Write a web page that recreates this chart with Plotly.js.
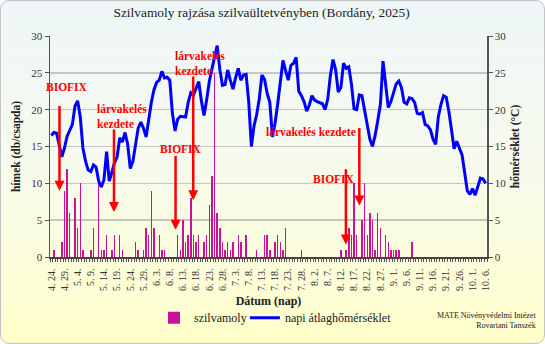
<!DOCTYPE html>
<html><head><meta charset="utf-8">
<script src="https://cdn.plot.ly/plotly-3.0.1.min.js"></script>
<style>
html,body{margin:0;padding:0;background:#ffffff;}
#wrap{position:relative;width:545px;height:344px;}
#chart{position:absolute;left:0;top:0;width:545px;height:344px;
  background:linear-gradient(to bottom,#EEF6F8 0%,#F6FAEE 45%,#FCFDD8 80%,#FEFEC8 100%);border-radius:9px;}
#frame{position:absolute;left:0;top:0;width:543px;height:342px;border:1px solid #C4C4C4;border-radius:9px;pointer-events:none;}
</style></head><body>
<div id="wrap"><div id="chart"></div><div id="frame"></div></div>
<script>
// ---- data ----
const startMonth = 4, startDay = 24, nDays = 166;
const monthLengths = {4:30,5:31,6:30,7:31,8:31,9:30,10:31};

// daily mean temperature (°C)
const tempC = [
16.5,16.9,16.8,15.0,13.6,14.8,16.4,17.2,18.0,20.5,
21.2,19.0,14.8,13.0,11.8,11.6,12.5,12.2,10.3,9.5,
10.5,14.3,10.3,11.5,12.8,13.6,16.2,15.6,16.9,15.3,
12.0,13.0,15.0,17.5,18.3,17.5,16.3,18.7,21.0,22.7,
23.7,24.0,25.2,24.3,24.4,24.0,19.5,17.1,18.7,19.1,
19.0,19.0,21.0,22.3,22.0,22.8,23.8,21.2,19.2,21.3,
23.8,25.5,26.9,28.7,25.5,23.3,23.4,25.4,24.0,22.8,
24.3,25.6,24.0,24.7,24.8,21.0,15.0,17.8,19.3,21.5,
24.7,24.1,22.2,21.0,16.3,18.2,20.8,23.8,26.7,25.3,
24.0,26.0,26.3,27.1,22.5,21.9,21.1,
19.8,20.6,21.9,21.3,21.1,20.9,20.8,20.0,21.4,24.6,
26.8,25.4,22.4,23.0,26.3,25.6,25.8,23.5,20.1,20.0,
22.0,21.9,20.0,17.6,16.0,15.0,16.5,18.5,20.7,26.6,
23.0,20.3,21.1,22.4,23.5,23.9,23.0,21.0,20.8,21.6,
21.5,21.0,19.5,19.4,19.6,18.0,17.8,17.3,16.0,15.3,
19.0,20.7,21.9,21.7,19.8,17.3,14.7,15.7,14.8,13.9,
11.5,9.0,8.5,9.3,8.4,9.7,10.7,10.6,10.0];

// plum moth males caught (per trap)
const mothDates = ['4. 25.','4. 28.','4. 29.','4. 30.','5. 1.','5. 3.','5. 4.','5. 5.','5. 6.','5. 9.',
 '5. 10.','5. 12.','5. 13.','5. 14.','5. 15.','5. 17.','5. 18.','5. 20.','5. 21.','5. 26.',
 '5. 27.','5. 29.','5. 30.','5. 31.','6. 1.','6. 2.','6. 4.','6. 5.','6. 6.','6. 11.',
 '6. 12.','6. 13.','6. 14.','6. 15.','6. 16.','6. 17.','6. 18.','6. 19.','6. 21.','6. 22.',
 '6. 23.','6. 24.','6. 25.','6. 26.','6. 27.','6. 28.','6. 29.','6. 30.','7. 1.','7. 2.',
 '7. 4.','7. 5.','7. 7.','7. 11.','7. 14.','7. 15.','7. 16.','7. 18.','7. 19.','7. 20.',
 '7. 21.','7. 22.','7. 28.','8. 12.','8. 14.','8. 15.','8. 16.','8. 17.','8. 18.','8. 20.',
 '8. 21.','8. 22.','8. 23.','8. 24.','8. 25.','8. 26.','8. 27.','8. 29.','8. 30.','8. 31.',
 '9. 1.','9. 2.','9. 3.','9. 8.'];
const mothCounts = [1,2,9,12,6,8,4,10,1,1,
 4,11,1,1,3,1,3,3,1,2,
 1,1,4,3,9,4,3,1,1,3,
 1,5,2,3,8,3,2,3,2,3,
 7,11,25,6,4,2,1,2,1,2,
 3,2,3,1,3,3,1,2,3,2,
 1,4,1,1,1,4,3,10,3,5,
 10,3,6,5,1,6,4,3,2,1,
 1,1,1,2];

// ---- build categories ----
const dayLabels = [];
{ let m = startMonth, d = startDay;
  for (let k = 0; k < nDays; k++) { dayLabels.push(m + '. ' + d + '.'); d++; if (d > monthLengths[m]) { m++; d = 1; } } }
const dayIdx = dayLabels.map((_, k) => k);
const tickVals = dayIdx.filter(k => k % 5 === 0);
const tickText = tickVals.map(k => dayLabels[k]);
const mothX = mothDates.map(s => dayLabels.indexOf(s));

const serif = '"Liberation Serif", "Times New Roman", serif';
const red = '#FF0000';

const traces = [
  {type:'bar', name:'szilvamoly', x:mothX, y:mothCounts, width:0.55,
   marker:{color:'#CC1199', line:{width:0}}, yaxis:'y', hoverinfo:'skip', legend:'legend'},
  {type:'scatter', mode:'lines', name:'napi átlaghőmérséklet', x:dayIdx, y:tempC,
   line:{color:'#0000FF', width:3}, yaxis:'y2', hoverinfo:'skip', legend:'legend2'}
];

function arrow(x, yTip, yTail){
  return {x:x, y:yTip, ax:x, ay:yTail, xref:'x', yref:'y', axref:'x', ayref:'y',
    text:'', showarrow:true, arrowhead:2, arrowsize:0.8, arrowwidth:2.5, arrowcolor:red};
}
function label(x, y, txt, anchor){
  return {x:x, y:y, xref:'x', yref:'y', text:'<b>'+txt+'</b>', showarrow:false,
    xanchor:anchor||'center', yanchor:'middle', align:'left',
    font:{family:serif, size:11.5, color:red}};
}
const legendStyle = {orientation:'h', xanchor:'left', y:-0.275, yanchor:'middle',
    font:{family:serif, size:12, color:'#222'}, bgcolor:'rgba(0,0,0,0)'};

const layout = {
  width:545, height:344,
  margin:{l:50, r:58, t:36, b:82, pad:0},
  paper_bgcolor:'rgba(0,0,0,0)', plot_bgcolor:'rgba(0,0,0,0)',
  font:{family:serif, color:'#222', size:11},
  title:{text:'Szilvamoly rajzása szilvaültetvényben (Bordány, 2025)', x:0.48, xref:'container', xanchor:'center',
    y:0.965, yref:'container', yanchor:'middle', font:{family:serif, size:13.4, color:'#222'}},
  showlegend:true,
  legend:Object.assign({x:0.238}, legendStyle),
  legend2:Object.assign({x:0.446}, legendStyle),
  bargap:0,
  xaxis:{range:[-0.5, nDays-0.5], tickmode:'array', tickvals:tickVals, ticktext:tickText, tickangle:-90,
    tickfont:{family:serif, size:10, color:'#333'}, ticks:'outside', ticklen:6, tickcolor:'rgba(0,0,0,0)',
    showline:true, linecolor:'#444', linewidth:1.5, showgrid:false, zeroline:false,
    minor:{tickmode:'linear', tick0:-0.5, dtick:1, ticks:'outside', ticklen:3, tickcolor:'#555', tickwidth:1, showgrid:false},
    title:{text:'<b>Dátum (nap)</b>', font:{family:serif, size:12, color:'#222'}, standoff:6}},
  yaxis:{range:[0,30], tick0:0, dtick:5, showgrid:true, gridcolor:'#C6C6C6', gridwidth:1.5,
    showline:true, linecolor:'#555', linewidth:1.5, ticks:'outside', ticklen:4, tickcolor:'#555', zeroline:false,
    tickfont:{family:serif, size:11, color:'#333'},
    title:{text:'<b>hímek (db/csapda)</b>', font:{family:serif, size:11.5, color:'#222'}, standoff:8}},
  yaxis2:{range:[0,30], tick0:0, dtick:5, overlaying:'y', side:'right', showgrid:false,
    showline:true, linecolor:'#555', linewidth:1.5, ticks:'outside', ticklen:4, tickcolor:'#555', zeroline:false,
    tickfont:{family:serif, size:11, color:'#333'},
    title:{text:'<b>hőmérséklet (°C)</b>', font:{family:serif, size:11.5, color:'#222'}, standoff:5}},
  annotations:[
    label(5.9, 23.1, 'BIOFIX'), arrow(3.1, 9.0, 20.7),
    label(16.6, 19.1, 'lárvakelés<br>kezdete', 'left'), arrow(23.8, 6.1, 17.5),
    label(49.3, 14.6, 'BIOFIX'), arrow(47.2, 3.7, 13.9),
    label(46.3, 26.3, 'lárvakelés<br>kezdete', 'left'), arrow(53.9, 7.7, 24.7),
    label(98.8, 17.0, 'lárvakelés kezdete'), arrow(117.0, 7.0, 17.7),
    label(107.4, 10.6, 'BIOFIX'), arrow(111.9, 1.7, 12.1),
    {xref:'paper', yref:'paper', x:1.117, y:-0.286, xanchor:'right', yanchor:'middle', align:'right', showarrow:false,
     text:'MATE Növényvédelmi Intézet<br>Rovartani Tanszék', font:{family:serif, size:8, color:'#222'}}
  ]
};

Plotly.newPlot('chart', traces, layout, {staticPlot:true, displayModeBar:false});
</script>
</body></html>
